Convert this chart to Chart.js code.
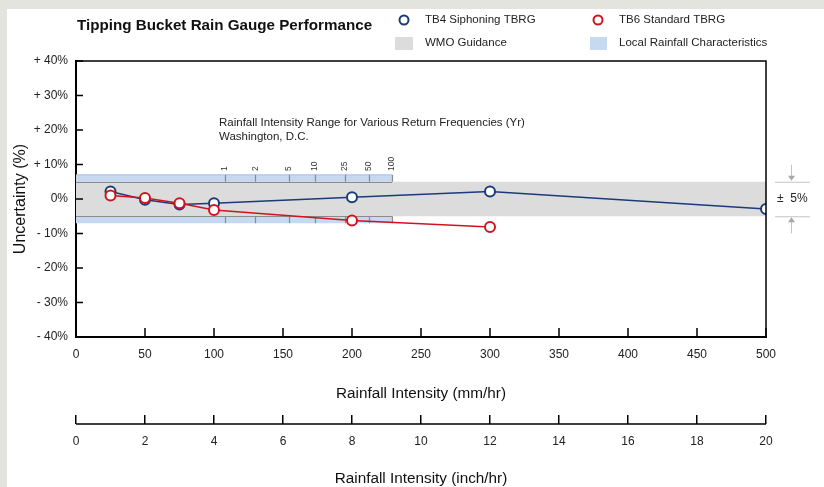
<!DOCTYPE html>
<html>
<head>
<meta charset="utf-8">
<script src="https://cdn.jsdelivr.net/npm/chart.js@4/dist/chart.umd.min.js"></script>
<style>
	html, body { margin: 0; padding: 0; background: #e4e4df; }
	.panel { position: absolute; left: 7px; top: 9px; width: 817px; height: 478px; background: #fff; }
	.wrap { position: absolute; left: 0; top: 0; width: 824px; height: 487px; }
</style>
</head>
<body>
<div class="panel"></div>
<div class="wrap"><canvas id="myChart" width="824" height="487"></canvas></div>
<script>
// ***** DATA *****
let intensityMm = [25, 50, 75, 100, 200, 300, 500]
let tb4Error = [2.2, -0.2, -1.6, -1.2, 0.5, 2.2, -2.9]
let tb6Error = [1.0, 0.3, -1.2, -3.2, -6.2, -8.1]

let wmoBand = [-5, 5]
let localBand = [-7, 7]
let localMaxIntensity = 229

// return frequencies (yr) and the intensity where each sits
let returnLabels = ['1', '2', '5', '10', '25', '50', '100']
let returnIntensity = [108, 130, 154, 173, 195, 212, 229]

let yTicks = [40, 30, 20, 10, 0, -10, -20, -30, -40]
let yTickLabels = ['+ 40%', '+ 30%', '+ 20%', '+ 10%', '0%', '- 10%', '- 20%', '- 30%', '- 40%']

let navy = '#1b3a7a',
	red = '#d0141c',
	font = '"Liberation Sans", Arial, sans-serif'

function points(xs, ys) {
	return ys.map((y, i) => ({ x: xs[i], y: y }))
}

// ***** EXTRA DRAWING (frame, inner ticks, annotations, header) *****
let decorations = {
	id: 'decorations',
	// right after the grey band is filled, before the series lines
	afterDatasetDraw(chart, args) {
		if (args.index !== 2) return
		let ctx = chart.ctx
		let x = chart.scales.x,
			y = chart.scales.y
		ctx.save()
		// darker edges of grey band over the local range
		ctx.strokeStyle = '#8c8c8c'
		ctx.lineWidth = 1.2
		ctx.beginPath()
		for (let v of wmoBand) {
			let py = Math.round(y.getPixelForValue(v)) + 0.5
			ctx.moveTo(x.getPixelForValue(0), py)
			ctx.lineTo(x.getPixelForValue(localMaxIntensity), py)
		}
		// return-frequency ticks in the blue band
		for (let xi of returnIntensity) {
			let px = Math.round(x.getPixelForValue(xi)) + 0.5
			ctx.moveTo(px, y.getPixelForValue(localBand[1]))
			ctx.lineTo(px, y.getPixelForValue(wmoBand[1]))
			ctx.moveTo(px, y.getPixelForValue(wmoBand[0]))
			ctx.lineTo(px, y.getPixelForValue(localBand[0]))
		}
		ctx.stroke()
		ctx.restore()
	},
	afterDraw(chart) {
		let ctx = chart.ctx
		let area = chart.chartArea
		let x = chart.scales.x,
			y = chart.scales.y,
			x2 = chart.scales.x2
		ctx.save()

		// top and right frame
		ctx.strokeStyle = '#000'
		ctx.lineWidth = 1.5
		ctx.beginPath()
		ctx.moveTo(area.left, area.top)
		ctx.lineTo(area.right, area.top)
		ctx.lineTo(area.right, area.bottom)
		ctx.stroke()

		// inner tick marks
		ctx.lineWidth = 1.5
		ctx.beginPath()
		for (let t of x.ticks) {
			let px = x.getPixelForValue(t.value)
			ctx.moveTo(px, area.bottom)
			ctx.lineTo(px, area.bottom - 9)
		}
		for (let t of y.ticks) {
			let py = y.getPixelForValue(t.value)
			ctx.moveTo(area.left, py)
			ctx.lineTo(area.left + 7, py)
		}
		// second axis line under its ticks
		let ly = x2.top + 9
		ctx.moveTo(area.left, ly)
		ctx.lineTo(area.right, ly)
		ctx.stroke()

		// return frequency labels
		ctx.fillStyle = '#333'
		ctx.font = '8.5px ' + font
		ctx.textAlign = 'left'
		ctx.textBaseline = 'middle'
		returnLabels.forEach((lab, i) => {
			ctx.save()
			ctx.translate(x.getPixelForValue(returnIntensity[i]), 171)
			ctx.rotate(-Math.PI / 2)
			ctx.fillText(lab, 0, 0)
			ctx.restore()
		})

		// annotation text
		ctx.fillStyle = '#222'
		ctx.font = '11.5px ' + font
		ctx.fillText('Rainfall Intensity Range for Various Return Frequencies (Yr)', 219, 123)
		ctx.fillText('Washington, D.C.', 219, 137)

		// +/- 5% marker at right
		let up = y.getPixelForValue(wmoBand[1]),
			dn = y.getPixelForValue(wmoBand[0]),
			ax = 791
		ctx.strokeStyle = '#c4c4c4'
		ctx.fillStyle = '#a8a8a8'
		ctx.lineWidth = 1
		ctx.beginPath()
		ctx.moveTo(775, up + 0.5)
		ctx.lineTo(810, up + 0.5)
		ctx.moveTo(775, dn + 0.5)
		ctx.lineTo(810, dn + 0.5)
		ctx.moveTo(ax + 0.5, up - 17)
		ctx.lineTo(ax + 0.5, up - 4)
		ctx.moveTo(ax + 0.5, dn + 4)
		ctx.lineTo(ax + 0.5, dn + 17)
		ctx.stroke()
		ctx.beginPath()
		ctx.moveTo(ax - 3, up - 6)
		ctx.lineTo(ax + 4, up - 6)
		ctx.lineTo(ax + 0.5, up - 1)
		ctx.closePath()
		ctx.moveTo(ax - 3, dn + 6)
		ctx.lineTo(ax + 4, dn + 6)
		ctx.lineTo(ax + 0.5, dn + 1)
		ctx.closePath()
		ctx.fill()
		ctx.fillStyle = '#222'
		ctx.font = '12px ' + font
		ctx.fillText('\u00b1  5%', 777, y.getPixelForValue(0))

		// title
		ctx.fillStyle = '#111'
		ctx.font = 'bold 15.2px ' + font
		ctx.fillText('Tipping Bucket Rain Gauge Performance', 77, 26)

		// legend
		ctx.font = '11.5px ' + font
		ctx.fillStyle = '#222'
		ctx.fillText('TB4 Siphoning TBRG', 425, 20)
		ctx.fillText('TB6 Standard TBRG', 619, 20)
		ctx.fillText('WMO Guidance', 425, 43)
		ctx.fillText('Local Rainfall Characteristics', 619, 43)
		ctx.lineWidth = 2
		ctx.strokeStyle = navy
		ctx.beginPath()
		ctx.arc(404, 20, 4.5, 0, Math.PI * 2)
		ctx.stroke()
		ctx.strokeStyle = red
		ctx.beginPath()
		ctx.arc(598, 20, 4.5, 0, Math.PI * 2)
		ctx.stroke()
		ctx.fillStyle = '#dcdcdc'
		ctx.fillRect(395, 37, 18, 13)
		ctx.fillStyle = '#c6d9f0'
		ctx.fillRect(590, 37, 17, 13)

		ctx.restore()
	},
}

// ***** CHART.JS *****
let ctx = document.getElementById('myChart').getContext('2d')
let myChart = new Chart(ctx, {
	type: 'line',
	data: {
		datasets: [
			{
				label: 'TB6 Standard TBRG',
				data: points(intensityMm, tb6Error),
				borderColor: red,
				backgroundColor: '#fff',
				borderWidth: 1.5,
				pointRadius: 5,
				pointBorderWidth: 2,
				pointBorderColor: red,
				pointBackgroundColor: '#fff',
				tension: 0,
				order: 1,
			},
			{
				label: 'TB4 Siphoning TBRG',
				data: points(intensityMm, tb4Error),
				borderColor: navy,
				backgroundColor: '#fff',
				borderWidth: 1.5,
				pointRadius: 5,
				pointBorderWidth: 2,
				pointBorderColor: navy,
				pointBackgroundColor: '#fff',
				tension: 0,
				order: 2,
			},
			{
				label: 'WMO Guidance',
				data: [
					{ x: 0, y: wmoBand[1] },
					{ x: 500, y: wmoBand[1] },
				],
				borderWidth: 0,
				pointRadius: 0,
				backgroundColor: '#dcdcdc',
				fill: { target: { value: wmoBand[0] } },
				order: 3,
			},
			{
				label: 'Local Rainfall Characteristics',
				data: [
					{ x: 0, y: localBand[1] },
					{ x: localMaxIntensity, y: localBand[1] },
				],
				borderWidth: 1,
				borderColor: '#a9c1e2',
				pointRadius: 0,
				backgroundColor: '#c6d9f0',
				fill: { target: { value: localBand[0] } },
				order: 4,
			},
		],
	},
	options: {
		responsive: false,
		animation: false,
		layout: { padding: { top: 61, right: 58, left: 0, bottom: 0 } },
		plugins: {
			legend: { display: false },
			tooltip: { enabled: false },
		},
		scales: {
			x: {
				type: 'linear',
				position: 'bottom',
				min: 0,
				max: 500,
				grid: { display: true, drawOnChartArea: false, drawTicks: false },
				border: { display: true, color: '#000', width: 2 },
				ticks: {
					stepSize: 50,
					padding: 10,
					color: '#222',
					font: { family: font, size: 12 },
					maxRotation: 0,
				},
				title: {
					display: true,
					text: 'Rainfall Intensity (mm/hr)',
					color: '#111',
					font: { family: font, size: 15.3 },
					padding: { top: 0, bottom: 12 },
				},
				afterFit(scale) {
					scale.height = 78
				},
			},
			x2: {
				type: 'linear',
				position: 'bottom',
				min: 0,
				max: 20,
				grid: {
					display: true,
					drawOnChartArea: false,
					drawTicks: true,
					tickLength: 9,
					tickColor: '#000',
					tickWidth: 1.5,
					lineWidth: 1.5,
				},
				border: { display: false },
				ticks: {
					stepSize: 2,
					padding: 10,
					color: '#222',
					font: { family: font, size: 12 },
					maxRotation: 0,
				},
				title: {
					display: true,
					text: 'Rainfall Intensity (inch/hr)',
					color: '#111',
					font: { family: font, size: 15.3 },
					padding: { top: 0, bottom: -1 },
				},
				afterFit(scale) {
					scale.height = 72
				},
			},
			y: {
				type: 'linear',
				min: -40,
				max: 40,
				grid: { display: true, drawOnChartArea: false, drawTicks: false },
				border: { display: true, color: '#000', width: 2 },
				ticks: {
					stepSize: 10,
					padding: 8,
					color: '#222',
					font: { family: font, size: 12 },
					callback: (v) => yTickLabels[yTicks.indexOf(v)],
				},
				title: {
					display: true,
					text: 'Uncertainty (%)',
					color: '#111',
					font: { family: font, size: 16 },
					padding: { top: 11, bottom: 0 },
				},
				afterFit(scale) {
					scale.width = 76
				},
			},
		},
	},
	plugins: [decorations],
})
</script>
</body>
</html>
